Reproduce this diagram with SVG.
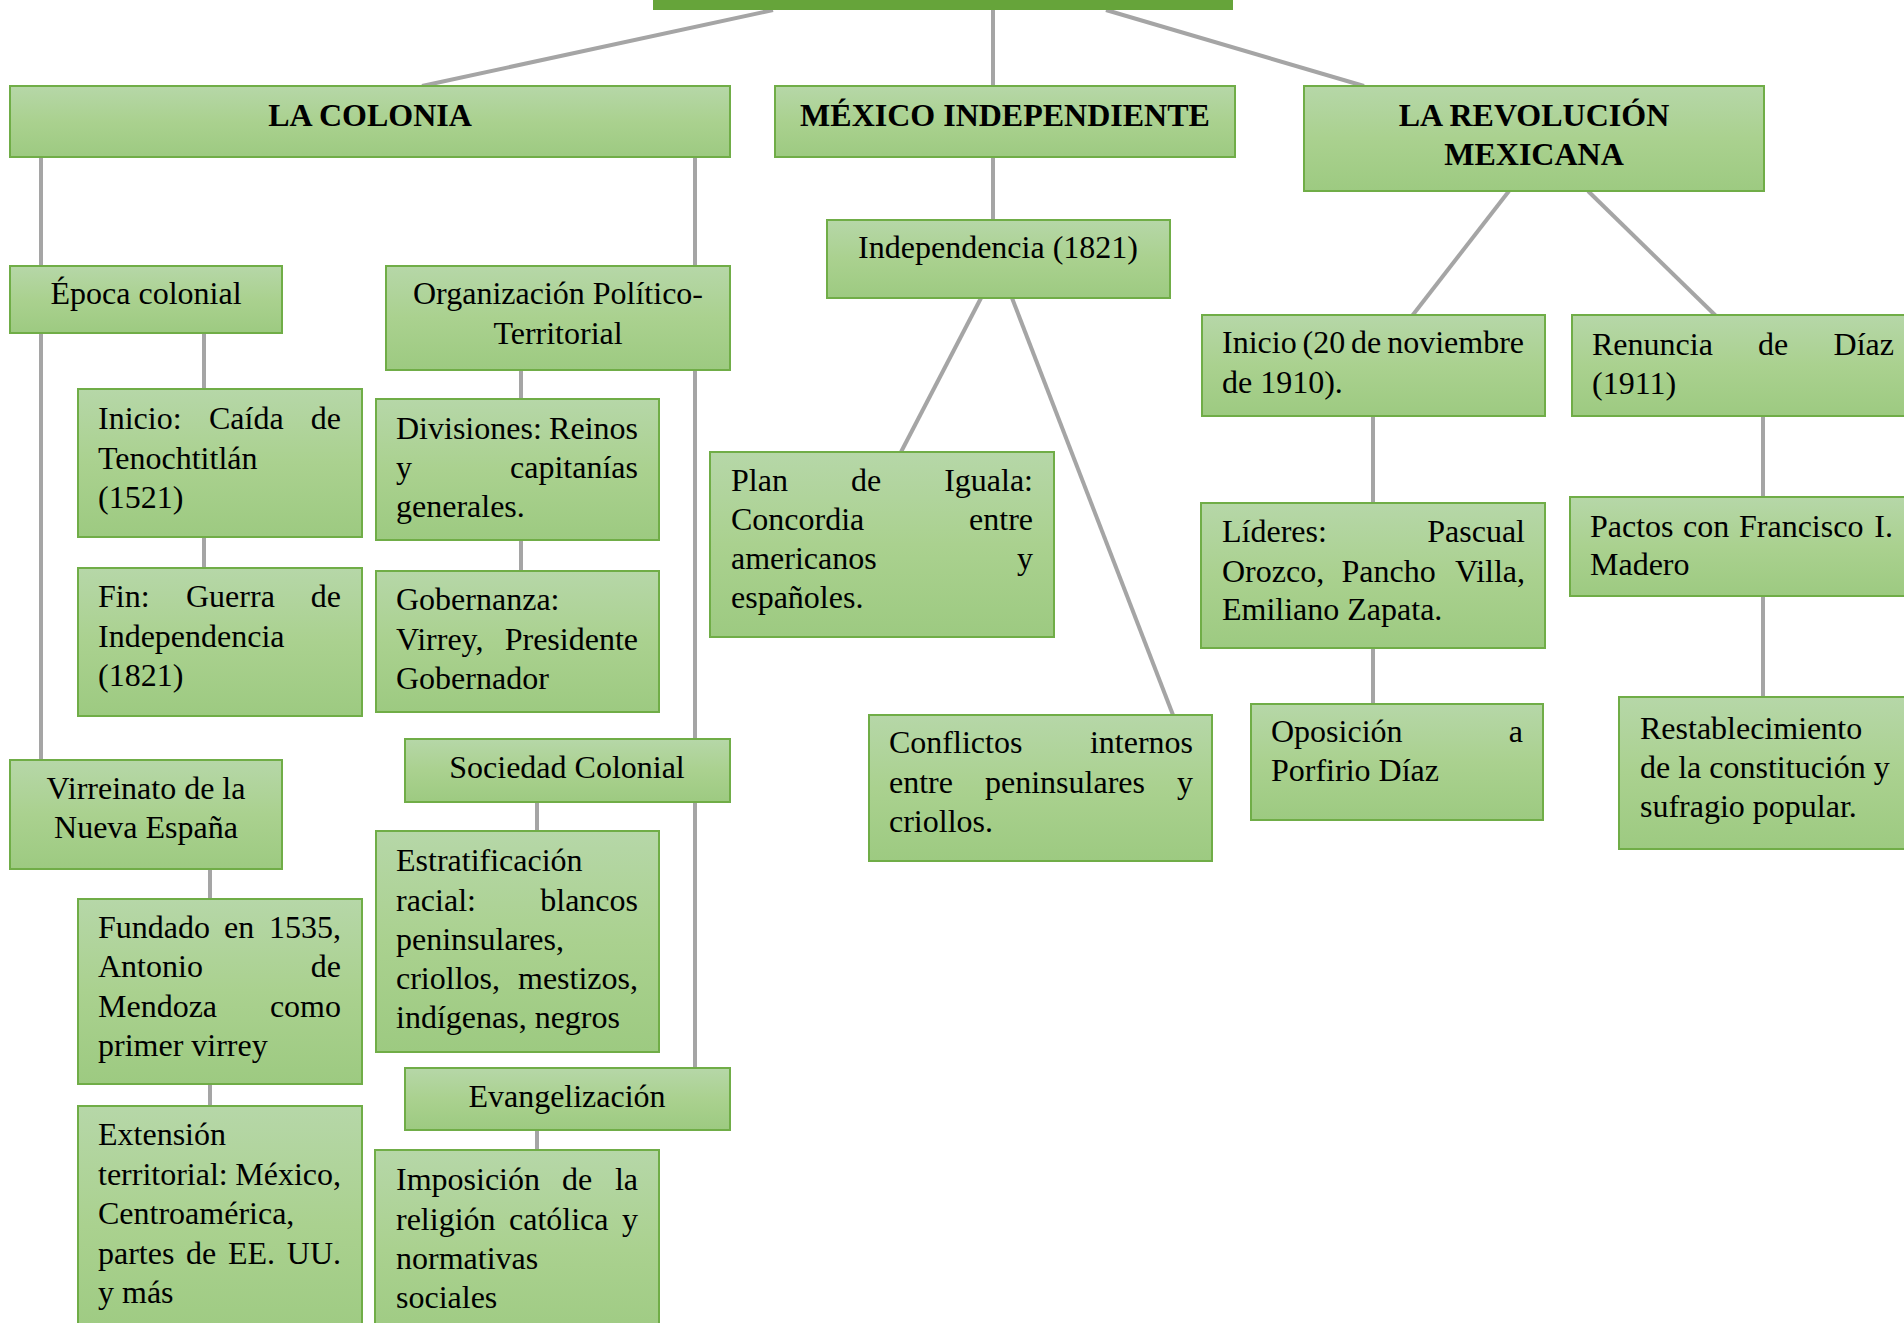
<svg xmlns="http://www.w3.org/2000/svg" width="1904" height="1323" viewBox="0 0 1904 1323">
<defs>
<linearGradient id="g" x1="0" y1="0" x2="0" y2="1">
<stop offset="0" stop-color="#b6d7a8"/>
<stop offset="0.5" stop-color="#aad18f"/>
<stop offset="1" stop-color="#9dca81"/>
</linearGradient>
<style>
.box{fill:url(#g);stroke:#70ad47;stroke-width:2}
.t{font-family:'Liberation Serif','Times New Roman',serif;font-size:32px;fill:#000}
.b{font-weight:bold}
.c{text-anchor:middle}
.e{text-anchor:end}
.con line{stroke:#a5a5a5;stroke-width:4}
</style>
</defs>
<rect width="1904" height="1323" fill="#fff"/>
<g id="connectors" class="con">
<line x1="773" y1="10" x2="422" y2="86"/>
<line x1="993" y1="10" x2="993" y2="86"/>
<line x1="1106" y1="10" x2="1364" y2="86"/>
<line x1="41" y1="157" x2="41" y2="760"/>
<line x1="695" y1="157" x2="695" y2="1068"/>
<line x1="204" y1="333" x2="204" y2="568"/>
<line x1="521" y1="370" x2="521" y2="571"/>
<line x1="537" y1="802" x2="537" y2="831"/>
<line x1="210" y1="869" x2="210" y2="1106"/>
<line x1="537" y1="1130" x2="537" y2="1150"/>
<line x1="993" y1="157" x2="993" y2="220"/>
<line x1="981" y1="298" x2="901" y2="452"/>
<line x1="1012" y1="298" x2="1173" y2="715"/>
<line x1="1509" y1="191" x2="1412" y2="316"/>
<line x1="1588" y1="191" x2="1716" y2="316"/>
<line x1="1373" y1="416" x2="1373" y2="704"/>
<line x1="1763" y1="416" x2="1763" y2="697"/>
</g>
<g id="root"><rect x="653" y="-40" width="580" height="50" fill="#66a43a"/></g>
<g id="la-colonia"><rect class="box" x="10" y="86" width="720" height="71"/><text class="t b c" x="370" y="126">LA COLONIA</text></g>
<g id="mexico-independiente"><rect class="box" x="775" y="86" width="460" height="71"/><text class="t b c" x="1005" y="126">MÉXICO INDEPENDIENTE</text></g>
<g id="la-revolucion"><rect class="box" x="1304" y="86" width="460" height="105"/><text class="t b c" x="1534" y="126">LA REVOLUCIÓN</text><text class="t b c" x="1534" y="165">MEXICANA</text></g>
<g id="epoca-colonial"><rect class="box" x="10" y="266" width="272" height="67"/><text class="t c" x="146" y="304">Época colonial</text></g>
<g id="organizacion"><rect class="box" x="386" y="266" width="344" height="104"/><text class="t c" x="558" y="304">Organización Político-</text><text class="t c" x="558" y="344">Territorial</text></g>
<g id="inicio-caida"><rect class="box" x="78" y="389" width="284" height="148"/>
<text class="t" y="429"><tspan x="98">Inicio:</tspan><tspan x="209">Caída</tspan><tspan x="341" class="e">de</tspan></text>
<text class="t" x="98" y="469">Tenochtitlán</text><text class="t" x="98" y="508">(1521)</text></g>
<g id="fin-guerra"><rect class="box" x="78" y="568" width="284" height="148"/>
<text class="t" y="607"><tspan x="98">Fin:</tspan><tspan x="186">Guerra</tspan><tspan x="341" class="e">de</tspan></text>
<text class="t" x="98" y="647">Independencia</text><text class="t" x="98" y="686">(1821)</text></g>
<g id="divisiones"><rect class="box" x="376" y="399" width="283" height="141"/>
<text class="t" y="439"><tspan x="396">Divisiones:</tspan><tspan x="638" class="e">Reinos</tspan></text>
<text class="t" y="478"><tspan x="396">y</tspan><tspan x="638" class="e">capitanías</tspan></text>
<text class="t" x="396" y="517">generales.</text></g>
<g id="gobernanza"><rect class="box" x="376" y="571" width="283" height="141"/>
<text class="t" x="396" y="610">Gobernanza:</text>
<text class="t" y="650"><tspan x="396">Virrey,</tspan><tspan x="638" class="e">Presidente</tspan></text>
<text class="t" x="396" y="689">Gobernador</text></g>
<g id="sociedad-colonial"><rect class="box" x="405" y="739" width="325" height="63"/><text class="t c" x="567" y="778">Sociedad Colonial</text></g>
<g id="virreinato"><rect class="box" x="10" y="760" width="272" height="109"/><text class="t c" x="146" y="799">Virreinato de la</text><text class="t c" x="146" y="838">Nueva España</text></g>
<g id="fundado"><rect class="box" x="78" y="899" width="284" height="185"/>
<text class="t" y="938"><tspan x="98">Fundado</tspan><tspan x="224">en</tspan><tspan x="341" class="e">1535,</tspan></text>
<text class="t" y="977"><tspan x="98">Antonio</tspan><tspan x="341" class="e">de</tspan></text>
<text class="t" y="1017"><tspan x="98">Mendoza</tspan><tspan x="341" class="e">como</tspan></text>
<text class="t" x="98" y="1056">primer virrey</text></g>
<g id="extension"><rect class="box" x="78" y="1106" width="284" height="240"/>
<text class="t" x="98" y="1145">Extensión</text>
<text class="t" y="1185"><tspan x="98">territorial:</tspan><tspan x="341" class="e">México,</tspan></text>
<text class="t" x="98" y="1224">Centroamérica,</text>
<text class="t" y="1264"><tspan x="98">partes</tspan><tspan x="186">de</tspan><tspan x="228">EE.</tspan><tspan x="341" class="e">UU.</tspan></text>
<text class="t" x="98" y="1303">y más</text></g>
<g id="estratificacion"><rect class="box" x="376" y="831" width="283" height="221"/>
<text class="t" x="396" y="871">Estratificación</text>
<text class="t" y="911"><tspan x="396">racial:</tspan><tspan x="638" class="e">blancos</tspan></text>
<text class="t" x="396" y="950">peninsulares,</text>
<text class="t" y="989"><tspan x="396">criollos,</tspan><tspan x="638" class="e">mestizos,</tspan></text>
<text class="t" x="396" y="1028">indígenas, negros</text></g>
<g id="evangelizacion"><rect class="box" x="405" y="1068" width="325" height="62"/><text class="t c" x="567" y="1107">Evangelización</text></g>
<g id="imposicion"><rect class="box" x="375" y="1150" width="284" height="200"/>
<text class="t" y="1190"><tspan x="396">Imposición</tspan><tspan x="562">de</tspan><tspan x="638" class="e">la</tspan></text>
<text class="t" y="1230"><tspan x="396">religión</tspan><tspan x="509">católica</tspan><tspan x="638" class="e">y</tspan></text>
<text class="t" x="396" y="1269">normativas</text>
<text class="t" x="396" y="1308">sociales</text></g>
<g id="independencia"><rect class="box" x="827" y="220" width="343" height="78"/><text class="t c" x="998" y="258">Independencia (1821)</text></g>
<g id="plan-iguala"><rect class="box" x="710" y="452" width="344" height="185"/>
<text class="t" y="491"><tspan x="731">Plan</tspan><tspan x="851">de</tspan><tspan x="1033" class="e">Iguala:</tspan></text>
<text class="t" y="530"><tspan x="731">Concordia</tspan><tspan x="1033" class="e">entre</tspan></text>
<text class="t" y="569"><tspan x="731">americanos</tspan><tspan x="1033" class="e">y</tspan></text>
<text class="t" x="731" y="608">españoles.</text></g>
<g id="conflictos"><rect class="box" x="869" y="715" width="343" height="146"/>
<text class="t" y="753"><tspan x="889">Conflictos</tspan><tspan x="1193" class="e">internos</tspan></text>
<text class="t" y="793"><tspan x="889">entre</tspan><tspan x="985">peninsulares</tspan><tspan x="1193" class="e">y</tspan></text>
<text class="t" x="889" y="832">criollos.</text></g>
<g id="inicio-1910"><rect class="box" x="1202" y="315" width="343" height="101"/>
<text class="t" y="353"><tspan x="1222">Inicio</tspan><tspan x="1302.5">(20</tspan><tspan x="1351">de</tspan><tspan x="1524" class="e">noviembre</tspan></text>
<text class="t" x="1222" y="393">de 1910).</text></g>
<g id="renuncia"><rect class="box" x="1572" y="315" width="342" height="101"/>
<text class="t" y="355"><tspan x="1592">Renuncia</tspan><tspan x="1758">de</tspan><tspan x="1894" class="e">Díaz</tspan></text>
<text class="t" x="1592" y="394">(1911)</text></g>
<g id="lideres"><rect class="box" x="1201" y="503" width="344" height="145"/>
<text class="t" y="542"><tspan x="1222">Líderes:</tspan><tspan x="1525" class="e">Pascual</tspan></text>
<text class="t" y="582"><tspan x="1222">Orozco,</tspan><tspan x="1341.5">Pancho</tspan><tspan x="1525" class="e">Villa,</tspan></text>
<text class="t" x="1222" y="620">Emiliano Zapata.</text></g>
<g id="pactos"><rect class="box" x="1570" y="497" width="344" height="99"/>
<text class="t" y="537"><tspan x="1590">Pactos</tspan><tspan x="1683">con</tspan><tspan x="1739">Francisco</tspan><tspan x="1893" class="e">I.</tspan></text>
<text class="t" x="1590" y="575">Madero</text></g>
<g id="oposicion"><rect class="box" x="1251" y="704" width="292" height="116"/>
<text class="t" y="742"><tspan x="1271">Oposición</tspan><tspan x="1523" class="e">a</tspan></text>
<text class="t" x="1271" y="781">Porfirio Díaz</text></g>
<g id="restablecimiento"><rect class="box" x="1619" y="697" width="300" height="152"/>
<text class="t" x="1640" y="739">Restablecimiento</text>
<text class="t" x="1640" y="778">de la constitución y</text>
<text class="t" x="1640" y="817">sufragio popular.</text></g>
</svg>
